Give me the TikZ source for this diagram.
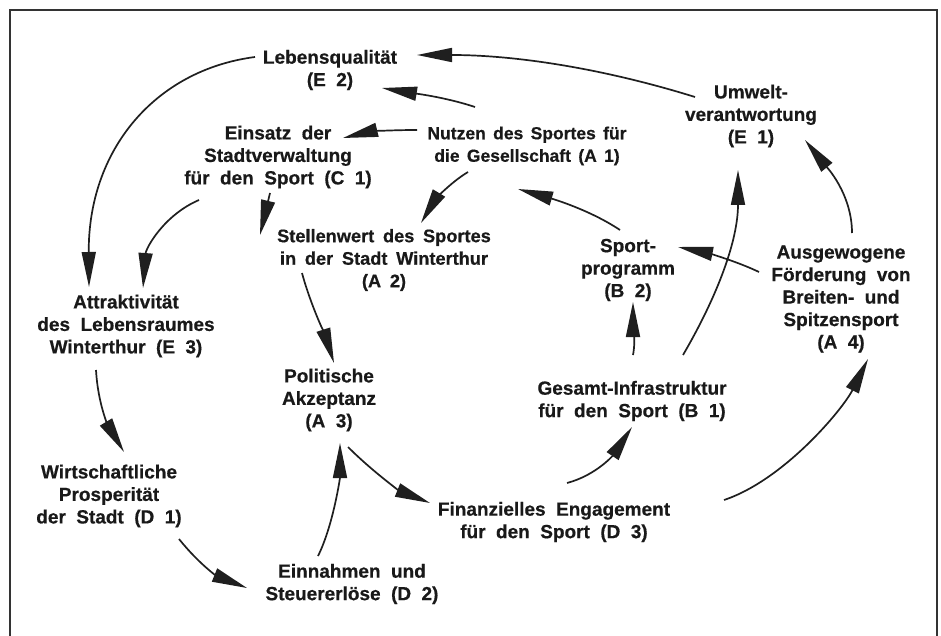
\documentclass[tikz,border=0pt]{standalone}
\usepackage{fontspec}
\setmainfont{Liberation Sans}[BoldFeatures={FakeBold=0.5}]
\usetikzlibrary{arrows.meta}
\newcommand\lblfont{\fontsize{19}{22.5}\selectfont\bfseries\spaceskip=0.55em\relax}
\newcommand\lblfontsm{\fontsize{17.5}{22.5}\selectfont\bfseries\spaceskip=0.42em\relax}
\newcommand\lblfontmd{\fontsize{18.2}{22.5}\selectfont\bfseries\spaceskip=0.48em\relax}
\begin{document}
\begin{tikzpicture}[x=1pt,y=-1pt,
  lbl/.style={inner sep=0pt,align=center,text=black!90,font=\lblfont},
  arr/.style={line width=1.7pt,draw=black!88,
    -{Triangle[length=35pt,width=14pt]}}]
\useasboundingbox (0,0) rectangle (941,636);
\fill[white] (0,0) rectangle (941,636);
\draw[line width=1.8pt,black!80] (10,660) -- (10,10) -- (937,10) -- (937,660);
\node[lbl] (E2) at (330,70) {Lebensqualität\\(E 2)};
\node[lbl] (C1) at (278,157) {Einsatz der\\Stadtverwaltung\\für den Sport (C 1)};
\node[lbl,font=\lblfontsm] (A1) at (527,146) {Nutzen des Sportes für\\die Gesellschaft (A 1)};
\node[lbl,font=\lblfontmd] (A2) at (384,260) {Stellenwert des Sportes\\in der Stadt Winterthur\\(A 2)};
\node[lbl] (E3) at (126,326) {Attraktivität\\des Lebensraumes\\Winterthur (E 3)};
\node[lbl] (E1) at (751,116) {Umwelt-\\verantwortung\\(E 1)};
\node[lbl] (B2) at (628,270) {Sport-\\programm\\(B 2)};
\node[lbl] (A4) at (841,299) {Ausgewogene\\Förderung von\\Breiten- und\\Spitzensport\\(A 4)};
\node[lbl] (A3) at (329,400) {Politische\\Akzeptanz\\(A 3)};
\node[lbl] (B1) at (632,401) {Gesamt-Infrastruktur\\für den Sport (B 1)};
\node[lbl] (D1) at (109,496) {Wirtschaftliche\\Prosperität\\der Stadt (D 1)};
\node[lbl] (D3) at (554,522) {Finanzielles Engagement\\für den Sport (D 3)};
\node[lbl] (D2) at (352,584) {Einnahmen und\\Steuererlöse (D 2)};
% connectors
\draw[arr] ([shift={(-56,-19)}]E1.center) .. controls +(-90,-28) and +(100,0) .. ([shift={(87,-15)}]E2.center);
\draw[arr] ([shift={(-52,-39)}]A1.center) .. controls +(-30,-10) and +(30,5) .. ([shift={(52,18)}]E2.center);
\draw[arr] ([shift={(-110,-16)}]A1.center) .. controls +(-30,0) and +(25,-6) .. ([shift={(65,-19)}]C1.center);
\draw[arr] ([shift={(-59,26)}]A1.center) .. controls +(-20,12) and +(12,-20) .. ([shift={(37,-37)}]A2.center);
\draw[arr] ([shift={(-8,36)}]C1.center) -- ([shift={(-124,-25)}]A2.center);
\draw[arr] ([shift={(-79,43)}]C1.center) .. controls +(-35,15) and +(3,-40) .. ([shift={(17,-38)}]E3.center);
\draw[arr] ([shift={(-75,-13)}]E2.center) .. controls +(-100,13) and +(-1,-137) .. ([shift={(-37,-39)}]E3.center);
\draw[arr] ([shift={(-82,13)}]A2.center) .. controls +(8,30) and +(-8,-25) .. ([shift={(5,-37)}]A3.center);
\draw[arr] ([shift={(-30,44)}]E3.center) .. controls +(2,35) and +(-15,-25) .. ([shift={(15,-44)}]D1.center);
\draw[arr] ([shift={(70,43)}]D1.center) .. controls +(20,25) and +(-30,-12) .. ([shift={(-105,4)}]D2.center);
\draw[arr] ([shift={(-34,-28)}]D2.center) .. controls +(15,-30) and +(0,35) .. ([shift={(11,43)}]A3.center);
\draw[arr] ([shift={(19,47)}]A3.center) .. controls +(25,25) and +(-30,-12) .. ([shift={(-124,-19)}]D3.center);
\draw[arr] ([shift={(13,-39)}]D3.center) .. controls +(30,-8) and +(-18,27) .. ([shift={(0,26)}]B1.center);
\draw[arr] ([shift={(170,-22)}]D3.center) .. controls +(60,-20) and +(-25,50) .. ([shift={(27,60)}]A4.center);
\draw[arr] ([shift={(1,-46)}]B1.center) .. controls +(3,-15) and +(0,15) .. ([shift={(5,32)}]B2.center);
\draw[arr] ([shift={(51,-46)}]B1.center) .. controls +(35,-60) and +(0,70) .. ([shift={(-13,54)}]E1.center);
\draw[arr] ([shift={(-8,-40)}]B2.center) .. controls +(-30,-20) and +(35,10) .. ([shift={(-9,43)}]A1.center);
\draw[arr] ([shift={(-82,-27)}]A4.center) .. controls +(-25,-12) and +(25,5) .. ([shift={(50,-23)}]B2.center);
\draw[arr] ([shift={(11,-66)}]A4.center) .. controls +(0,-40) and +(20,25) .. ([shift={(54,24)}]E1.center);
\end{tikzpicture}
\end{document}
